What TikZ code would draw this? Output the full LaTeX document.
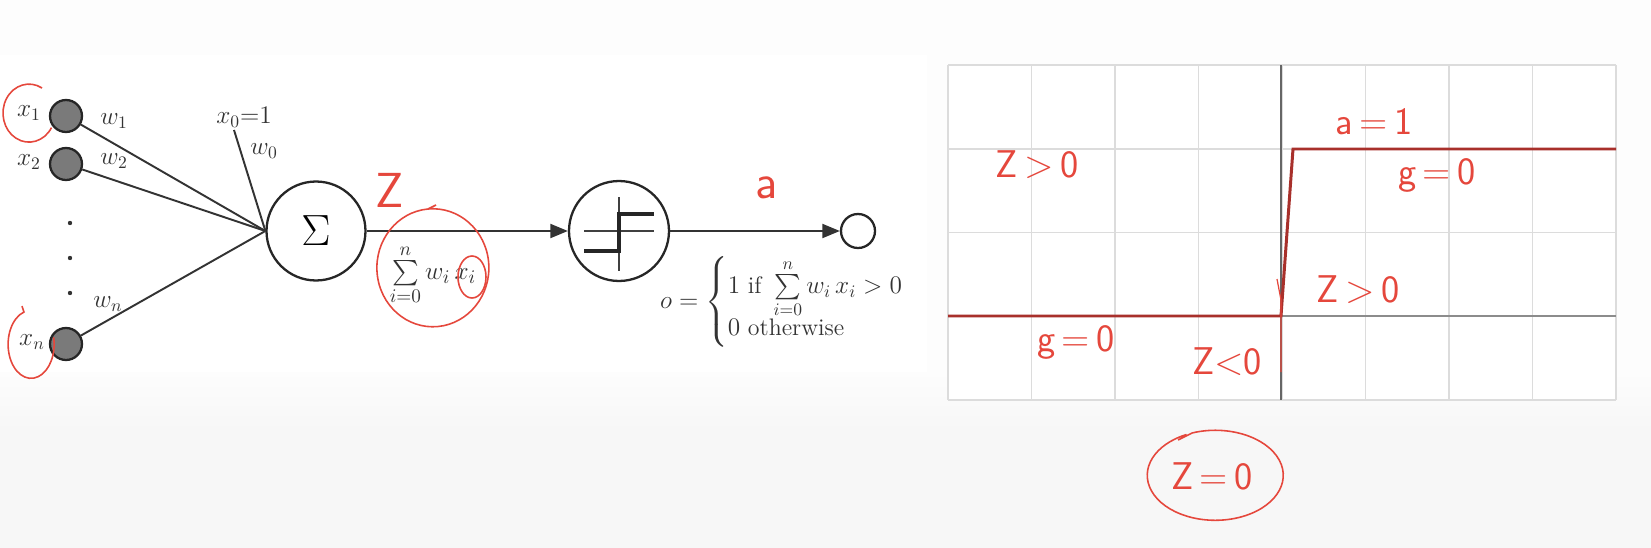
\documentclass[tikz,border=0pt]{standalone}
\usepackage{amsmath}
\usepackage{fontspec}
\usetikzlibrary{arrows.meta}
\definecolor{handred}{HTML}{E5473C}
\definecolor{stepred}{HTML}{A8302B}
\definecolor{bgtop}{HTML}{FDFDFD}
\definecolor{bgbot}{HTML}{F7F7F7}
\definecolor{gridc}{HTML}{DCDCDC}
\definecolor{nodegray}{HTML}{7A7A7A}
\begin{document}
\begin{tikzpicture}[x=0.02cm,y=-0.02cm,
  inp/.style={circle,draw=black!85,fill=nodegray,line width=1.3pt,minimum size=0.64cm,inner sep=0pt},
  unit/.style={circle,draw=black!85,fill=white,line width=1.3pt,inner sep=0pt},
  conn/.style={line width=1.1pt,draw=black!80},
  arr/.style={conn,-{Triangle[length=10pt,width=8pt]}},
  lbl/.style={font=\fontsize{14}{16}\selectfont,inner sep=0pt,text=black!80},
  hand/.style={text=handred,font=\sffamily\fontsize{22}{24}\selectfont,inner sep=0pt},
  handline/.style={draw=handred,line width=0.9pt},
  gridline/.style={draw=gridc,line width=0.9pt},
]
\useasboundingbox (0,0) rectangle (1651,548);
\fill[bgtop] (0,0) rectangle (1651,548);
\shade[top color=bgtop,bottom color=bgbot] (0,372) rectangle (1651,430);
\fill[bgbot] (0,430) rectangle (1651,548);
\fill[white] (0,55) rectangle (927,372);

% ---------------- perceptron ----------------
\node[inp] (x1) at (66,116) {};
\node[inp] (x2) at (66,164) {};
\node[inp] (xn) at (66,344) {};
\node[circle,fill=black!80,inner sep=0pt,minimum size=2.5pt] (d1) at (70,223) {};
\node[circle,fill=black!80,inner sep=0pt,minimum size=2.5pt] (d2) at (70,258) {};
\node[circle,fill=black!80,inner sep=0pt,minimum size=2.5pt] (d3) at (70,293) {};

\node[unit,minimum size=1.98cm] (sum) at (316,231) {\fontsize{36}{36}\selectfont$\Sigma$};
\node[unit,minimum size=2.0cm] (act) at (619,231) {};
\node[unit,minimum size=0.68cm] (out) at (858,231) {};

\coordinate (hub) at (sum.west);
\coordinate (x0end) at (234,130);
\draw[conn] (x1) -- (hub);
\draw[conn] (x2) -- (hub);
\draw[conn] (xn) -- (hub);
\draw[conn] (x0end) -- (hub);
\draw[arr] (sum) -- (act);
\draw[arr] (act) -- (out);

% step symbol inside activation unit
\draw[line width=0.8pt,black!75] ([xshift=-0.7cm]act.center) -- ([xshift=0.7cm]act.center);
\draw[line width=0.8pt,black!75] ([yshift=0.68cm]act.center) -- ([yshift=-0.8cm]act.center);
\draw[line width=2.2pt,black!85] ([xshift=-0.7cm,yshift=-0.4cm]act.center) -- ([yshift=-0.4cm]act.center)
   -- ([yshift=0.34cm]act.center) -- ([xshift=0.7cm,yshift=0.34cm]act.center);

% labels
\node[lbl] (lx1) at (29,113) {$x_1$};
\node[lbl] (lx2) at (29,162) {$x_2$};
\node[lbl] (lxn) at (32,342) {$x_n$};
\node[lbl] (lw1) at (114,121) {$w_1$};
\node[lbl] (lw2) at (114,161) {$w_2$};
\node[lbl] (lwn) at (108,304) {$w_n$};
\node[lbl] (lx0) at (244,117) {$x_0{=}1$};
\node[lbl] (lw0) at (264,151) {$w_0$};
\node[lbl,font=\fontsize{15}{17}\selectfont] (lsum) at (433,275) {$\sum\limits_{i=0}^{n} w_i\, x_i$};
\node[lbl,font=\fontsize{13.6}{15}\selectfont] (formula) at (794,302)
  {$o = \begin{cases} 1 \text{ if } \sum\limits_{i=0}^{n} w_i\, x_i > 0\\[-3pt] 0 \text{ otherwise}\end{cases}$};

% red annotations on perceptron
\draw[handline] (42,88) arc[start angle=-60,end angle=-330,x radius=26,y radius=29];
\draw[handline] (22,306) -- (24,312) arc[start angle=-108,end angle=-372,x radius=23,y radius=34];
\draw[handline] (436,205) -- (428,209) arc[start angle=-95,end angle=265,x radius=56,y radius=59];
\draw[handline] (472,277) ellipse[x radius=14,y radius=21];
\node[hand,font=\sffamily\fontsize{28}{30}\selectfont] (zlab) at (390,190) {Z};
\node[hand,font=\sffamily\fontsize{28}{30}\selectfont] (alab) at (767,188) {a};

% ---------------- step-function plot ----------------
\fill[white] (948,65) rectangle (1616,400);
\foreach \i in {0,...,8} { \draw[gridline] (948+83.5*\i,65) -- (948+83.5*\i,400); }
\foreach \j in {0,...,4} { \draw[gridline] (948,65+83.75*\j) -- (1616,65+83.75*\j); }
\coordinate (ol) at (948,316);
\coordinate (orr) at (1616,316);
\coordinate (ot) at (1281,65);
\coordinate (ob) at (1281,400);
\coordinate (o) at (1281,316);
\coordinate (c1) at (1293,149);
\coordinate (tr) at (1616,149);
\draw[draw=black!45,line width=1.5pt] (ol) -- (orr);
\draw[draw=black!60,line width=0.6pt] (ot) -- (ob);
\draw[stepred,line width=1.7pt] (ol) -- (o) -- (c1) -- (tr);
\draw[handline,line width=0.7pt] (1277,279) -- (1281,300) -- (1281,372);

\node[hand] (h1) at (1374,122) {a\,=\,1};
\node[hand] (h2) at (1037,165) {Z\,>\,0};
\node[hand] (h3) at (1437,175) {g\,=\,0};
\node[hand] (h4) at (1358,290) {Z\,>\,0};
\node[hand] (h5) at (1076,342) {g\,=\,0};
\node[hand] (h6) at (1227,362) {Z<0};
\node[hand] (h7) at (1212,476) {Z\,=\,0};
\draw[handline] (1178,440) -- (1192,433) arc[start angle=-110,end angle=245,x radius=68,y radius=45];
\end{tikzpicture}
\end{document}
